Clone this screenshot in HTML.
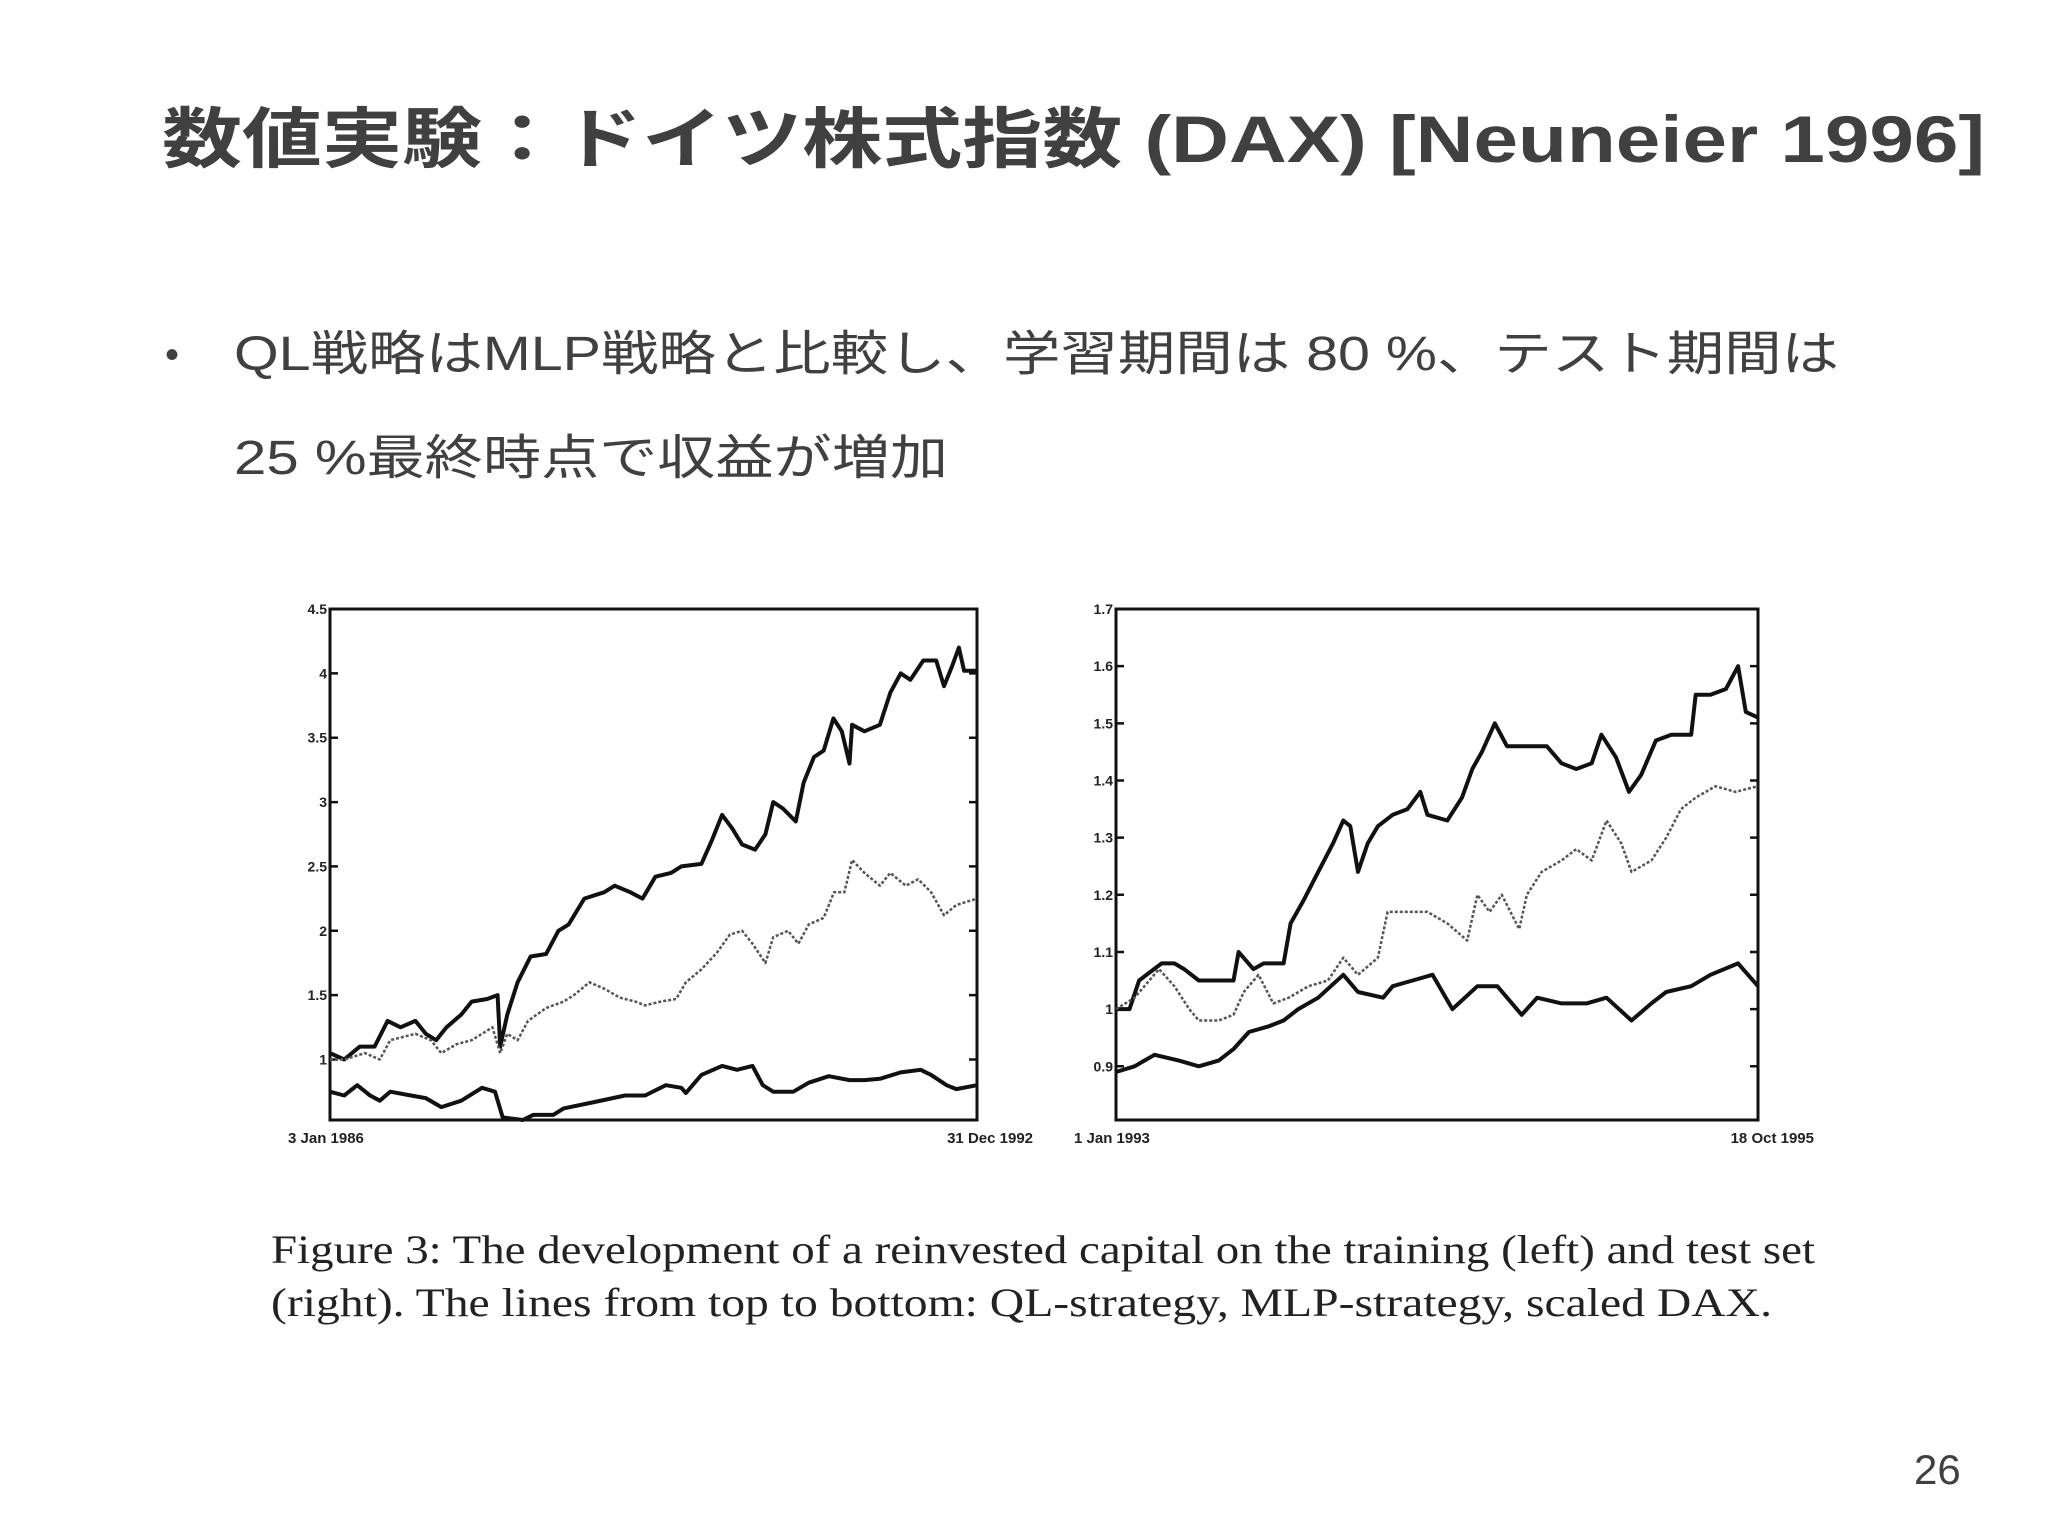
<!DOCTYPE html>
<html><head><meta charset="utf-8"><style>
html,body{margin:0;padding:0;background:#fff;width:2048px;height:1536px;overflow:hidden}
svg{display:block}
.t{font-family:"Liberation Sans","Noto Sans CJK JP",sans-serif}
</style></head><body>
<svg id="s" width="2048" height="1536" viewBox="0 0 2048 1536">
<text class="t" x="162" y="162" font-size="66" font-weight="bold" fill="#404040" textLength="1823" lengthAdjust="spacingAndGlyphs">数値実験：ドイツ株式指数 (DAX) [Neuneier 1996]</text>
<text class="t" x="165" y="368" font-size="40" fill="#404040">•</text>
<text class="t" x="234" y="370" font-size="48" fill="#404040" textLength="1605" lengthAdjust="spacingAndGlyphs">QL戦略はMLP戦略と比較し、学習期間は 80 %、テスト期間は</text>
<text class="t" x="234" y="474" font-size="48" fill="#404040" textLength="714" lengthAdjust="spacingAndGlyphs">25 %最終時点で収益が増加</text>
<text x="271" y="1263" font-family="Liberation Serif,serif" font-size="40" fill="#222" textLength="1544" lengthAdjust="spacingAndGlyphs">Figure 3:  The development of a reinvested capital on the training (left) and test set</text>
<text x="271" y="1316" font-family="Liberation Serif,serif" font-size="40" fill="#222" textLength="1501" lengthAdjust="spacingAndGlyphs">(right).  The lines from top to bottom: QL-strategy, MLP-strategy, scaled DAX.</text>
<text class="t" x="1914" y="1484" font-size="42" fill="#404040">26</text>
<g id="charts"></g>
</svg>
<script>
// Left chart (training, 3 Jan 1986 - 31 Dec 1992), t = % of period
const leftYTicks = [1, 1.5, 2, 2.5, 3, 3.5, 4, 4.5];
const leftYLabels = ["1", "1.5", "2", "2.5", "3", "3.5", "4", "4.5"];
const leftXLabels = ["3 Jan 1986", "31 Dec 1992"];
const leftQLT = [0,2.2,4.6,6.9,8.9,10.9,13.2,14.8,16.4,18.0,20.3,21.9,24.3,25.9,26.3,27.4,29.0,31.0,33.4,35.3,36.9,39.3,42.4,44.0,46.4,48.3,50.3,52.7,54.3,57.4,59.0,60.6,62.1,63.7,65.7,67.3,68.5,70.0,72.0,73.2,74.8,76.3,77.8,79.1,80.3,80.7,82.6,85.0,86.6,88.2,89.7,91.7,93.7,94.9,96.1,97.2,98.0,100];
const leftQLV = [1.05,1.0,1.1,1.1,1.3,1.25,1.3,1.2,1.15,1.25,1.35,1.45,1.47,1.5,1.1,1.35,1.6,1.8,1.82,2.0,2.05,2.25,2.3,2.35,2.3,2.25,2.42,2.45,2.5,2.52,2.7,2.9,2.8,2.67,2.63,2.75,3.0,2.95,2.85,3.15,3.35,3.4,3.65,3.55,3.3,3.6,3.55,3.6,3.85,4.0,3.95,4.1,4.1,3.9,4.05,4.2,4.02,4.02];
const leftMLPT = [0,2.2,5.4,7.7,9.3,13.2,15.6,17.2,19.6,21.9,25.1,26.3,27.4,29.0,30.6,33.4,36.1,37.7,40.1,42.4,44.8,47.2,48.7,51.1,53.5,55.0,57.4,59.8,61.8,63.7,65.3,67.3,68.5,70.8,72.4,74.0,76.3,77.9,79.5,80.7,82.6,85.0,86.6,89.0,90.9,92.9,94.9,96.8,100];
const leftMLPV = [1.0,1.0,1.05,1.0,1.15,1.2,1.15,1.05,1.12,1.15,1.25,1.05,1.2,1.15,1.3,1.4,1.45,1.5,1.6,1.55,1.48,1.45,1.42,1.45,1.47,1.6,1.7,1.83,1.97,2.0,1.9,1.75,1.95,2.0,1.9,2.05,2.1,2.3,2.3,2.55,2.45,2.35,2.45,2.35,2.4,2.3,2.12,2.2,2.25];
const leftDAXT = [0,2.2,4.2,6.2,7.7,9.3,12.5,14.8,17.2,20.3,23.5,25.5,26.7,29.8,31.4,34.5,36.1,40.9,45.6,48.7,51.9,54.3,55.0,57.4,60.6,62.9,65.3,66.9,68.5,71.6,74.0,77.1,80.3,82.6,85.0,88.2,91.3,92.9,95.3,96.8,100];
const leftDAXV = [0.75,0.72,0.8,0.72,0.68,0.75,0.72,0.7,0.63,0.68,0.78,0.75,0.55,0.53,0.57,0.57,0.62,0.67,0.72,0.72,0.8,0.78,0.74,0.88,0.95,0.92,0.95,0.8,0.75,0.75,0.82,0.87,0.84,0.84,0.85,0.9,0.92,0.88,0.8,0.77,0.8];
// Right chart (test, 1 Jan 1993 - 18 Oct 1995)
const rightYTicks = [0.9, 1, 1.1, 1.2, 1.3, 1.4, 1.5, 1.6, 1.7];
const rightYLabels = ["0.9", "1", "1.1", "1.2", "1.3", "1.4", "1.5", "1.6", "1.7"];
const rightXLabels = ["1 Jan 1993", "18 Oct 1995"];
const rightQLT = [0,2.1,3.6,7.1,9.1,10.6,12.9,16.0,18.3,19.1,21.4,23.0,26.1,27.2,29.2,31.5,33.8,35.4,36.5,37.7,39.2,40.8,43.1,45.4,47.4,48.5,51.6,53.9,55.5,57.0,59.0,60.9,64.0,67.1,69.4,71.7,74.1,75.6,77.9,79.9,81.8,84.1,86.5,89.6,90.3,92.6,95.0,96.9,98.1,100];
const rightQLV = [1.0,1.0,1.05,1.08,1.08,1.07,1.05,1.05,1.05,1.1,1.07,1.08,1.08,1.15,1.19,1.24,1.29,1.33,1.32,1.24,1.29,1.32,1.34,1.35,1.38,1.34,1.33,1.37,1.42,1.45,1.5,1.46,1.46,1.46,1.43,1.42,1.43,1.48,1.44,1.38,1.41,1.47,1.48,1.48,1.55,1.55,1.56,1.6,1.52,1.51];
const rightMLPT = [0,2.9,6.7,9.1,11.4,12.9,16.0,18.3,19.9,22.2,24.5,26.9,30.0,33.0,35.4,37.7,40.8,42.3,45.4,48.5,51.6,54.7,56.3,58.2,60.1,62.8,64.0,66.3,69.4,71.7,74.1,76.4,78.7,80.3,83.4,85.7,88.0,90.3,93.4,96.5,100];
const rightMLPV = [1.0,1.02,1.07,1.04,1.0,0.98,0.98,0.99,1.03,1.06,1.01,1.02,1.04,1.05,1.09,1.06,1.09,1.17,1.17,1.17,1.15,1.12,1.2,1.17,1.2,1.14,1.2,1.24,1.26,1.28,1.26,1.33,1.29,1.24,1.26,1.3,1.35,1.37,1.39,1.38,1.39];
const rightDAXT = [0,2.9,6.0,9.8,12.9,16.0,18.3,20.7,23.8,26.1,28.4,31.5,35.4,37.7,41.6,43.1,46.2,49.3,52.4,56.3,59.4,63.2,65.6,69.4,73.3,76.4,80.3,83.4,85.7,89.6,92.6,96.9,100];
const rightDAXV = [0.89,0.9,0.92,0.91,0.9,0.91,0.93,0.96,0.97,0.98,1.0,1.02,1.06,1.03,1.02,1.04,1.05,1.06,1.0,1.04,1.04,0.99,1.02,1.01,1.01,1.02,0.98,1.01,1.03,1.04,1.06,1.08,1.04];

const NS = "http://www.w3.org/2000/svg";
const root = document.getElementById("charts");
function mk(tag, attrs, parent) {
  const e = document.createElementNS(NS, tag);
  for (const k in attrs) e.setAttribute(k, attrs[k]);
  (parent || root).appendChild(e);
  return e;
}
function chart(name, box, ymin, ymax, yTicks, yLabels, xLabels, series) {
  const g = mk("g", {});
  
  
  const sx = t => box.x + (t / 100) * box.w;
  const sy = v => box.y + box.h - (v - ymin) / (ymax - ymin) * box.h;
  const frame = mk("rect", {x: box.x, y: box.y, width: box.w, height: box.h, fill: "none", stroke: "#111", "stroke-width": 3}, g);
  
  
  yTicks.forEach((v, i) => {
    const y = sy(v);
    const tk = mk("path", {d: `M${box.x} ${y}h8M${box.x + box.w} ${y}h-8`, stroke: "#111", "stroke-width": 2.5}, g);
    
    
    const tx = mk("text", {x: box.x - 3, y: y + 5, "text-anchor": "end", "font-size": 14, "font-weight": "bold", "font-family": "Liberation Sans,sans-serif", fill: "#222"}, g);
    tx.textContent = yLabels[i];
    
    
  });
  const xl0 = mk("text", {x: box.x - 42, y: box.y + box.h + 23, "font-size": 15, "font-weight": "bold", "font-family": "Liberation Sans,sans-serif", fill: "#222"}, g);
  xl0.textContent = xLabels[0];
  
  
  const xl1 = mk("text", {x: box.x + box.w + 56, y: box.y + box.h + 23, "text-anchor": "end", "font-size": 15, "font-weight": "bold", "font-family": "Liberation Sans,sans-serif", fill: "#222"}, g);
  xl1.textContent = xLabels[1];
  
  
  series.forEach(s => {
    const d = s.t.map((t, i) => (i ? "L" : "M") + sx(t).toFixed(1) + " " + sy(s.v[i]).toFixed(1)).join("");
    const p = mk("path", {d: d, fill: "none", stroke: s.dot ? "#555" : "#111", "stroke-width": s.dot ? 2.5 : 4, "stroke-dasharray": s.dot ? "3,2" : "none", "stroke-linejoin": "round"}, g);
    
    
  });
}
chart("training-chart", {x: 330, y: 609, w: 647, h: 511}, 0.53, 4.5, leftYTicks, leftYLabels, leftXLabels, [
  {name: "ql-strategy-line", t: leftQLT, v: leftQLV},
  {name: "mlp-strategy-line", t: leftMLPT, v: leftMLPV, dot: true},
  {name: "scaled-dax-line", t: leftDAXT, v: leftDAXV}
]);
chart("test-chart", {x: 1116, y: 609, w: 642, h: 511}, 0.806, 1.7, rightYTicks, rightYLabels, rightXLabels, [
  {name: "ql-strategy-line", t: rightQLT, v: rightQLV},
  {name: "mlp-strategy-line", t: rightMLPT, v: rightMLPV, dot: true},
  {name: "scaled-dax-line", t: rightDAXT, v: rightDAXV}
]);
</script>
</body></html>
